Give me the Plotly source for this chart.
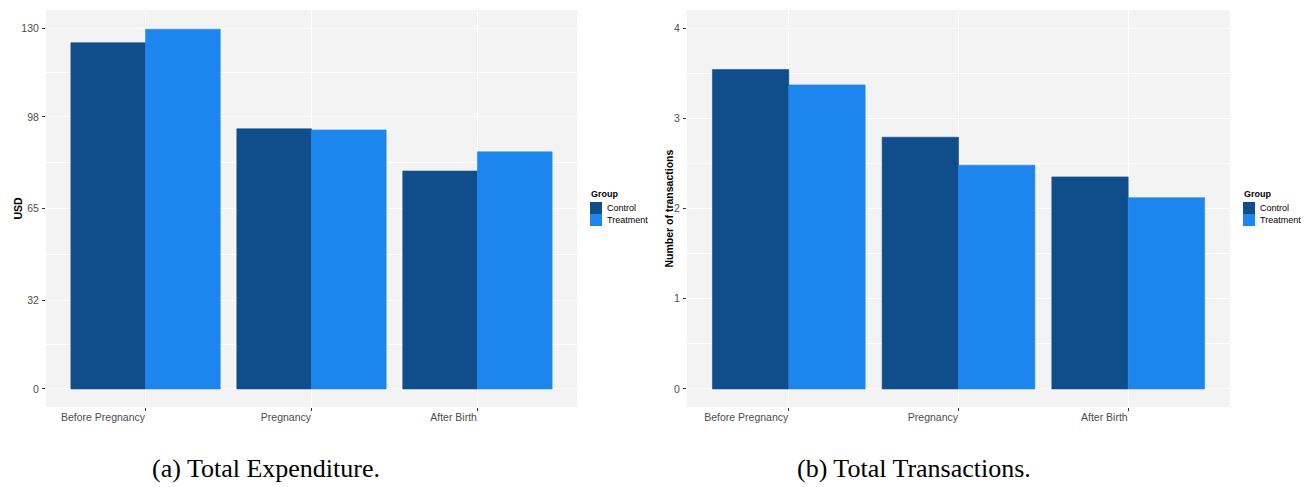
import plotly.graph_objects as go

W, H = 1310, 487

categories = ["Before Pregnancy", "Pregnancy", "After Birth"]
groups = ["Control", "Treatment"]
group_colors = ["#104E8B", "#1C86EE"]

# (a) Total Expenditure (USD)
expenditure_control = [124.7, 93.7, 78.5]
expenditure_treatment = [129.6, 93.3, 85.4]
exp_ticks = [0, 32, 65, 98, 130]
exp_minor = [16, 48.5, 81.5, 114]

# (b) Total Transactions
transactions_control = [3.54, 2.79, 2.35]
transactions_treatment = [3.37, 2.48, 2.12]
tr_ticks = [0, 1, 2, 3, 4]
tr_minor = [0.5, 1.5, 2.5, 3.5]

captions = ["(a) Total Expenditure.", "(b) Total Transactions."]
y_titles = ["USD", "Number of transactions"]

PANEL_BG = "#F3F3F3"
TICK_COL = "#4D4D4D"


def px_x(p):
    return p / W


def px_y(p):
    return 1 - p / H


fig = go.Figure()

series = [
    (expenditure_control, expenditure_treatment, "x", "y"),
    (transactions_control, transactions_treatment, "x2", "y2"),
]
for ctrl, trt, xa, ya in series:
    for name, vals, col in zip(groups, [ctrl, trt], group_colors):
        fig.add_trace(go.Bar(
            x=categories, y=vals, name=name,
            marker=dict(color=col, line=dict(width=0.6, color=col)),
            xaxis=xa, yaxis=ya, showlegend=False, offsetgroup=name,
        ))

ydom = [px_y(407), px_y(10)]
axis_font = dict(family="Liberation Sans, Arial, sans-serif", size=10.5, color=TICK_COL)

common_x = dict(
    type="category", range=[-0.6, 2.6], showgrid=True, gridcolor="white", gridwidth=1.2,
    ticks="outside", ticklen=3, tickcolor="#333333", tickwidth=1,
    tickfont=axis_font, ticklabelposition="outside left", showline=False, zeroline=False,
    fixedrange=True,
)
common_y = dict(
    showgrid=True, gridcolor="white", gridwidth=1.2, ticks="outside", ticklen=3,
    tickcolor="#333333", tickwidth=1, tickfont=axis_font, showline=False, zeroline=False,
    domain=ydom, ticklabelstandoff=1,
)

fig.update_layout(
    width=W, height=H, margin=dict(l=0, r=0, t=0, b=0),
    paper_bgcolor="white", plot_bgcolor=PANEL_BG,
    barmode="group", bargap=0.1, bargroupgap=0,
    xaxis=dict(domain=[px_x(46), px_x(577)], anchor="y", **common_x),
    xaxis2=dict(domain=[px_x(687), px_x(1230)], anchor="y2", **common_x),
    yaxis=dict(anchor="x", range=[-6.5, 136.5], tickmode="array", tickvals=exp_ticks,
               ticktext=[str(t) for t in exp_ticks],
               minor=dict(tickmode="array", tickvals=exp_minor, showgrid=True,
                          gridcolor="white", gridwidth=0.6, ticks=""),
               **common_y),
    yaxis2=dict(anchor="x2", range=[-0.2, 4.2], tickmode="array", tickvals=tr_ticks,
                ticktext=[str(t) for t in tr_ticks],
                minor=dict(tickmode="array", tickvals=tr_minor, showgrid=True,
                           gridcolor="white", gridwidth=0.6, ticks=""),
                **common_y),
)

annotations = []
shapes = []

# y-axis titles
for title, xc in zip(y_titles, [17, 668]):
    annotations.append(dict(
        text=f"<b>{title}</b>", x=px_x(xc), y=px_y(208.5), xref="paper", yref="paper",
        showarrow=False, textangle=-90, xanchor="center", yanchor="middle",
        font=dict(family="Liberation Sans, Arial, sans-serif", size=10.5, color="black"),
    ))

# captions
for cap, xc in zip(captions, [266, 914]):
    annotations.append(dict(
        text=cap, x=px_x(xc), y=px_y(468), xref="paper", yref="paper", showarrow=False,
        xanchor="center", yanchor="middle",
        font=dict(family="Liberation Serif, Times New Roman, serif", size=26, color="black"),
    ))

# legends (drawn as keys + labels)
for lx in [590, 1243]:
    annotations.append(dict(
        text="<b>Group</b>", x=px_x(lx - 1), y=px_y(194), xref="paper", yref="paper",
        showarrow=False, xanchor="left", yanchor="middle",
        font=dict(family="Liberation Sans, Arial, sans-serif", size=9, color="black"),
    ))
    for i, (g, col) in enumerate(zip(groups, group_colors)):
        top = 202 + 12 * i
        shapes.append(dict(
            type="rect", xref="paper", yref="paper", x0=px_x(lx), x1=px_x(lx + 12),
            y0=px_y(top + 12), y1=px_y(top), fillcolor=col, line=dict(width=0),
        ))
        annotations.append(dict(
            text=g, x=px_x(lx + 15), y=px_y(top + 6), xref="paper", yref="paper",
            showarrow=False, xanchor="left", yanchor="middle",
            font=dict(family="Liberation Sans, Arial, sans-serif", size=9, color="black"),
        ))

fig.update_layout(annotations=annotations, shapes=shapes)

fig.write_html(
    "out.html",
    config={"displayModeBar": False},
    post_script="document.body.style.margin='0';document.body.style.overflow='hidden';",
)
